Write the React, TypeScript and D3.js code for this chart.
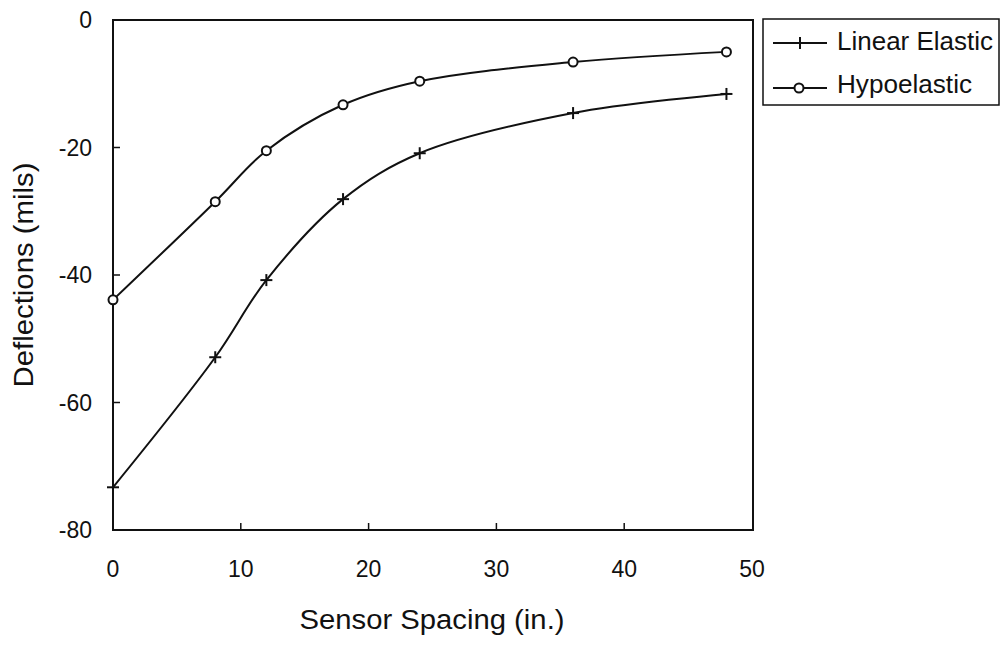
import React from "react";
import * as d3 from "d3";

const spacing = [0, 8, 12, 18, 24, 36, 48];
const linearElastic = [-73.3, -52.9, -40.8, -28.1, -20.9, -14.6, -11.6];
const hypoelastic = [-43.9, -28.5, -20.5, -13.3, -9.6, -6.6, -5.0];
const xTicks = [0, 10, 20, 30, 40, 50];
const yTicks = [0, -20, -40, -60, -80];
const seriesNames = ["Linear Elastic", "Hypoelastic"];

const W = 1005;
const H = 645;
const left = 113;
const right = 753;
const top = 20;
const bottom = 530;
const FONT = "'Liberation Sans', Arial, sans-serif";

export default function App() {
  const x = d3.scaleLinear().domain([0, 50]).range([left, left + 12.78 * 50]);
  const y = d3.scaleLinear().domain([0, -80]).range([top, bottom]);
  const line = d3
    .line<[number, number]>()
    .x((d) => x(d[0]))
    .y((d) => y(d[1]))
    .curve(d3.curveCatmullRom.alpha(0.5));
  const lePts: [number, number][] = spacing.map((s, i) => [s, linearElastic[i]]);
  const hyPts: [number, number][] = spacing.map((s, i) => [s, hypoelastic[i]]);
  const stroke = "#111";
  return (
    <svg
      width={W}
      height={H}
      style={{ position: "absolute", left: 0, top: 0, background: "#fff" }}
    >
      <rect x={0} y={0} width={W} height={H} fill="#fff" />
      {/* plot frame */}
      <rect
        x={left}
        y={top}
        width={right - left}
        height={bottom - top}
        fill="none"
        stroke={stroke}
        strokeWidth={2}
      />
      {/* x ticks */}
      {xTicks.map((t) => (
        <g key={"xt" + t}>
          {t > 0 && t < 50 && (
            <line x1={x(t)} x2={x(t)} y1={bottom} y2={bottom - 7} stroke={stroke} strokeWidth={1.5} />
          )}
          <text
            x={x(t)}
            y={577}
            textAnchor="middle"
            fontFamily={FONT}
            fontSize={23}
            fill="#111"
          >
            {t}
          </text>
        </g>
      ))}
      {/* y ticks */}
      {yTicks.map((t) => (
        <g key={"yt" + t}>
          {t < 0 && t > -80 && (
            <line x1={left} x2={left + 7} y1={y(t)} y2={y(t)} stroke={stroke} strokeWidth={1.5} />
          )}
          <text
            x={92}
            y={y(t) + 8}
            textAnchor="end"
            fontFamily={FONT}
            fontSize={23}
            fill="#111"
          >
            {t}
          </text>
        </g>
      ))}
      {/* axis titles */}
      <text
        x={432}
        y={629}
        textAnchor="middle"
        fontFamily={FONT}
        fontSize={27}
        textLength={265}
        lengthAdjust="spacingAndGlyphs"
        fill="#111"
      >
        Sensor Spacing (in.)
      </text>
      <text
        transform={`translate(33, 275) rotate(-90)`}
        textAnchor="middle"
        fontFamily={FONT}
        fontSize={27}
        textLength={225}
        lengthAdjust="spacingAndGlyphs"
        fill="#111"
      >
        Deflections (mils)
      </text>
      {/* lines */}
      <path d={line(lePts) || ""} fill="none" stroke={stroke} strokeWidth={2} />
      <path d={line(hyPts) || ""} fill="none" stroke={stroke} strokeWidth={2} />
      {/* markers */}
      {lePts.map((p, i) => (
        <g key={"le" + i} stroke={stroke} strokeWidth={2}>
          <line x1={x(p[0]) - 6} x2={x(p[0]) + 6} y1={y(p[1])} y2={y(p[1])} />
          <line x1={x(p[0])} x2={x(p[0])} y1={y(p[1]) - 6} y2={y(p[1]) + 6} />
        </g>
      ))}
      {hyPts.map((p, i) => (
        <circle
          key={"hy" + i}
          cx={x(p[0])}
          cy={y(p[1])}
          r={4.5}
          fill="#fff"
          stroke={stroke}
          strokeWidth={2}
        />
      ))}
      {/* legend */}
      <rect x={763} y={19} width={236} height={86} fill="#fff" stroke={stroke} strokeWidth={1.5} />
      <g stroke={stroke} strokeWidth={2}>
        <line x1={773} x2={827} y1={43} y2={43} />
        <line x1={800} x2={800} y1={37} y2={49} />
        <line x1={773} x2={827} y1={88} y2={88} />
      </g>
      <circle cx={799} cy={88} r={4.5} fill="#fff" stroke={stroke} strokeWidth={2} />
      <text
        x={837}
        y={50}
        fontFamily={FONT}
        fontSize={25}
        textLength={156}
        lengthAdjust="spacingAndGlyphs"
        fill="#111"
      >
        {seriesNames[0]}
      </text>
      <text
        x={837}
        y={93}
        fontFamily={FONT}
        fontSize={25}
        textLength={135}
        lengthAdjust="spacingAndGlyphs"
        fill="#111"
      >
        {seriesNames[1]}
      </text>
    </svg>
  );
}
